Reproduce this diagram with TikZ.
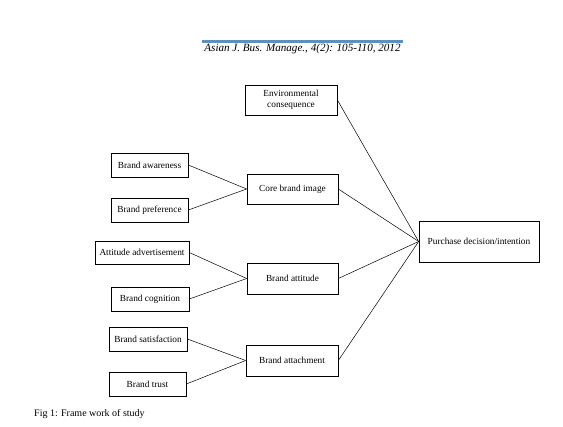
\documentclass[tikz,border=0pt]{standalone}
\usepackage{fontspec}
\setmainfont{Liberation Serif}
\begin{document}
\begin{tikzpicture}[x=1pt,y=-1pt,
  box/.style={draw,line width=0.7pt,inner sep=0pt,font=\fontsize{9.3}{10.5}\selectfont,align=center},
  link/.style={line width=0.5pt}]
\useasboundingbox (0,0) rectangle (563,427);
\draw[line width=3pt,color={rgb,255:red,94;green,143;blue,192}] (202,42) -- (403,42);
\node[anchor=base,font=\fontsize{11.1}{13}\selectfont\itshape] (hdr) at (302.5,51.5) {Asian J. Bus. Manage., 4(2): 105-110, 2012};
\node[box,minimum width=92pt,minimum height=30pt] (env) at (291,100) {Environmental\\consequence};
\node[box,minimum width=77pt,minimum height=24pt] (aware) at (149.5,165) {Brand awareness};
\node[box,minimum width=77pt,minimum height=24pt] (pref) at (149.5,210) {Brand preference};
\node[box,minimum width=91pt,minimum height=30pt] (core) at (292.5,189) {Core brand image};
\node[box,minimum width=120pt,minimum height=41pt] (purch) at (479,241.5) {Purchase decision/intention};
\node[box,minimum width=94pt,minimum height=23pt] (attadv) at (142,252.5) {Attitude advertisement};
\node[box,minimum width=91pt,minimum height=31pt] (attitude) at (292.5,278.5) {Brand attitude};
\node[box,minimum width=78pt,minimum height=24pt] (cog) at (150,299) {Brand cognition};
\node[box,minimum width=78pt,minimum height=24pt] (sat) at (148,339) {Brand satisfaction};
\node[box,minimum width=92pt,minimum height=31pt] (attach) at (292,360.5) {Brand attachment};
\node[box,minimum width=77pt,minimum height=24pt] (trust) at (147.5,384) {Brand trust};
\node[anchor=base west,font=\fontsize{10}{12}\selectfont,inner sep=0pt] (cap) at (34,417) {Fig 1: Frame work of study};
\draw[link] (aware.east) -- (core.west);
\draw[link] (pref.east) -- (core.west);
\draw[link] (attadv.east) -- (attitude.west);
\draw[link] (cog.east) -- (attitude.west);
\draw[link] (sat.east) -- (attach.west);
\draw[link] (trust.east) -- (attach.west);
\draw[link] (env.east) -- (purch.west);
\draw[link] (core.east) -- (purch.west);
\draw[link] (attitude.east) -- (purch.west);
\draw[link] (attach.east) -- (purch.west);
\end{tikzpicture}
\end{document}
